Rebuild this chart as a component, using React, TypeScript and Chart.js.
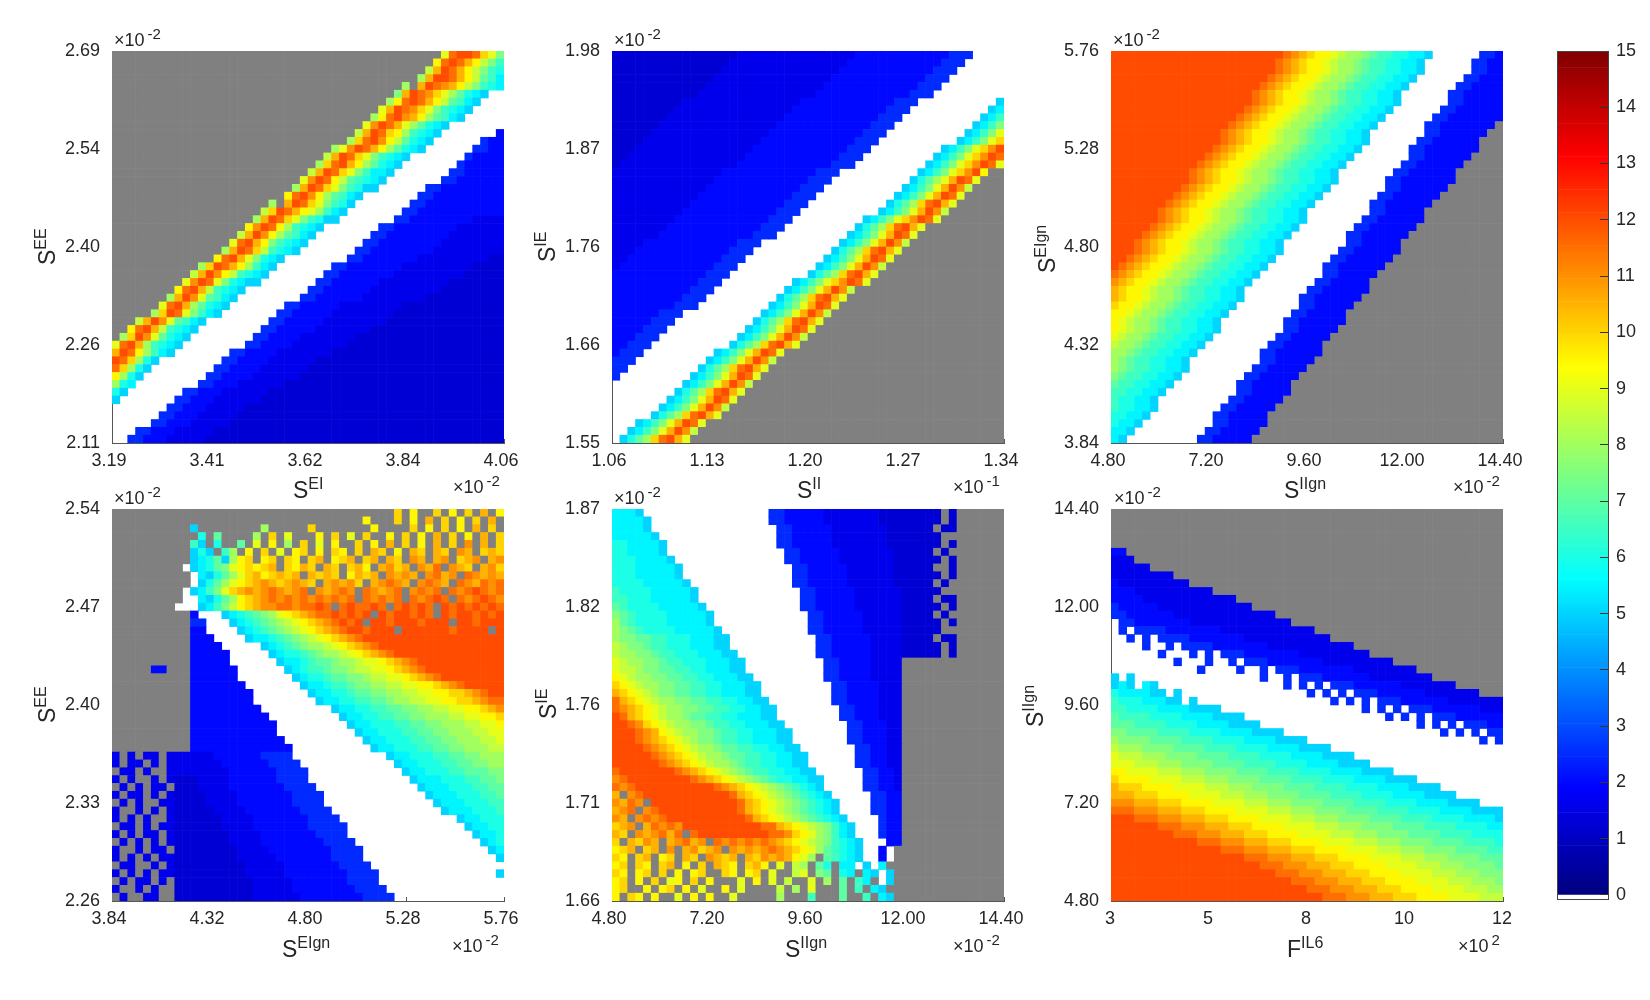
import { useEffect, useRef } from "react";
import { Chart, registerables, type ChartConfiguration } from "chart.js";

Chart.register(...registerables);

// cell codes: run-length rows, A..Z = value / 0.5, "." = no data (gray), "-" = empty (white)
const panel1Rows = [
  "42.SXYYXUSP", "41.TXYXVTRPN", "40.RVYXVTRPNM", "39.QVYYXVTRONL", "37.Q.VYXWVTRPNML",
  "36.PVYXWUSQOMLK2-", "35.QTXYXVTRONLK3-", "34.SVYXWUSPNMLK4-", "33.QTXYWVTQONLK5-", "32.SWYXVSQOMLK7-",
  "31.RVYXUTQNMLK7-E", "30.QUXYWTROMLK6-F2E", "28.QSWYXVTQOMLK6-FF2E", "27.RVYXUSPNMLK7-F4E", "26.QUXYVTQOMLK7-F5E",
  "25.RVYXUSPNLLK7-FF5E", "24.SWYXTRONMLK7-FF6E", "23.QVYXUSPNMKK6-FF8E", "22.TXYWTQONLK7-2F9E", "20.Q.VYXUSPNMK7-2F10E",
  "19.RUYXVTSQNLK7-2F11E", "18.QVYXUSPNMKK7-2F8E4D", "17.TWYXTQNMLK7-2F8E6D", "16.RVYWTQONLK7-2F8E7D", "15.SXYVTPNMLK7-2F8E8D",
  "14.QVYXURNMLK7-2F8E9D", "13.TXYVSPMLK8-2F7E9D2C", "11.QUYXVTQNLK7-2F7E9D4C", "10.RVYWTRNMLK7-2F7E9D5C", "9.SWYXSPMLKK7-2F6E9D7C",
  "8.TXYVRNMLK8-2F6E9D8C", "7.QVYWSONLK8-2F6E8D10C", "6.SXYVQOMLK7-2F5E8D13C", "5.QUYXSPNLK7-2F5E8D14C", "3.RVYWSONLK8-2F5E8D15C",
  "2.TXYVRNMLK8-2F5E7D17C", ".QUYWSOMLK8-2F4E7D19C", "SXYVQNMLK8-2F4E7D20C", "VYXTQNLK7-2F4E7D22C", "YXUQMK8-2F4E6D24C",
  "XUQMK8-2F4E6D25C", "TQMK8-2F4E6D26C", "QML8-2F3E6D28C", "MK7-2F3E6D30C", "K7-2F3E6D31C",
  "7-2F3E5D33C", "6-2F3E5D34C", "5-2F3E5D35C", "3-2F3E5D37C", "2-2F3E5D38C",
];
const panel2Rows = [
  "16C15D12E3F4-", "15C15D12E3F5-", "14C15D12E3F6-", "13C15D12E3F7-", "12C15D12E3F8-",
  "11C15D12E3F9-", "9C15D12E3F10-K", "8C15D12E3F10-KL", "7C15D12E3F10-KLN", "6C15D12E3F10-KLNP",
  "5C15D12E3F10-KLNPS", "4C15D12E3F10-KLNPSU", "3C15D12E3F9-KLNPSUWY", "2C15D12E3F9-KLNPSUWYX", "C15D12E3F9-KLNPSUWYXS",
  "14D12E3F10-KLNPSUWYT2.", "13D12E3F10-KMOQSVYXS3.", "12D12E3F10-KLNPSVYWR4.", "11D12E3F10-KLNPSVYXS5.", "10D12E3F10-KMOQUXYVS6.",
  "9D12E3F10-KLNPSVYWR7.", "8D12E3F9-KLNPSUWYXS8.", "7D12E3F9-KMOQUXYVS10.", "6D12E3F9-KLNPSVYXS11.", "4D12E3F10-KLNPSVYWR12.",
  "3D12E3F10-KMOQUXYVS13.", "2D12E3F10-KLNPSVYXS14.", "D12E3F10-KLNPSVYWR15.", "12E3F10-KMOQUXYVS16.", "11E3F9-KLNPSUWYXS17.",
  "10E3F9-KLNPSVYWR19.", "9E3F9-KMOQUXYVS20.", "8E3F9-KLNPSVYXS21.", "6E3F10-KLNPSVYWR22.", "5E3F10-KMOQUXYVS23.",
  "4E3F10-KLNPSVYXS24.", "3E3F10-KLNPSVYWR25.", "2E3F10-KMOQUXYVS26.", "E3F9-KLNPSVYXS28.", "3F9-KLNPSVYWR29.",
  "2F9-KMOQUXYVS30.", "F9-KLNPSVYXS31.", "9-KLNPSVYWR32.", "8-KMOQUXYVS33.", "7-KLNPSVYXS34.",
  "6-KLNPSVYWR35.", "5-KMOQUXYVS36.", "3-KLNPSVYXS38.", "2-KLNPSVYWR39.", "-KMOQUXYVS40.",
];
const panel3Rows = [
  "22YXWVUTTSRQQPONNMMLLK6-FFE", "21YXWVUTTSRQQPONNMMLLK6-FFEE", "21YXWVUTTSRQQPONNMMLLK6-FFEE", "20YXWVUTTSRQQPONNMMLLK6-FFEEE", "19YXWVUTTSRQQPONNMMLLK6-FFEEEE",
  "18YXWVUTTSRQQPONNMMLLK6-2F5E", "18YXWVUTTSRQQPONNMMLLK6-2F5E", "17YXWVUTTSRQQPONNMMLLK6-2F6E", "16YXWVUTTSRQQPONNMMLLK6-2F7E", "15YXWVUTTSRQQPONNMMLLK6-2F7E.",
  "14YXWVUTTSRQQPONNMMLLK7-2F6E2.", "14YXWVUTTSRQQPONNMMLLK6-2F6E3.", "13YXWVUTTSRQQPONNMMLLK6-2F7E3.", "12YXWVUTTSRQQPONNMMLLK7-2F6E4.", "11YXWVUTTSRQQPONNMMLLK7-2F6E5.",
  "10YXWVUTTSRQQPONNMMLLK7-2F6E6.", "10YXWVUTTSRQQPONNMMLLK6-2F7E6.", "9YXWVUTTSRQQPONNMMLLK7-2F6E7.", "8YXWVUTTSRQQPONNMMLLK7-2F6E8.", "7YXWVUTTSRQQPONNMMLLK7-2F6E9.",
  "6YXWVUTTSRQQPONNMMLLK8-2F5E10.", "6YXWVUTTSRQQPONNMMLLK7-2F6E10.", "5YXWVUTTSRQQPONNMMLLK7-2F6E11.", "4YXWVUTTSRQQPONNMMLLK7-2F6E12.", "3YXWVUTTSRQQPONNMMLLK8-2F5E13.",
  "3YXWVUTTSRQQPONNMMLLK7-2F6E13.", "2YXWVUTTSRQQPONNMMLLK7-2F6E14.", "YXWVUTTSRQQPONNMMLLK7-2F6E15.", "XWVUTTSRQQPONNMMLLK8-2F5E16.", "WVUTTSRQQPONNMMLLK8-2F5E17.",
  "VUTTSRQQPONNMMLLK8-2F6E17.", "VUTTSRQQPONNMMLLK7-2F6E18.", "UTTSRQQPONNMMLLK8-2F5E19.", "TTSRQQPONNMMLLK8-2F5E20.", "TSRQQPONNMMLLK8-2F6E20.",
  "TSRQQPONNMMLLK8-2F5E21.", "SRQQPONNMMLLK8-2F5E22.", "RQQPONNMMLLK8-2F5E23.", "QQPONNMMLLK8-2F6E23.", "QPONNMMLLK9-2F5E24.",
  "QPONNMMLLK8-2F5E25.", "PONNMMLLK8-2F5E26.", "ONNMMLLK8-2F5E27.", "NNMMLLK9-2F5E27.", "NMMLLK9-2F5E28.",
  "NMMLLK8-2F5E29.", "MMLLK8-2F5E30.", "MLLK9-2F5E30.", "LLK9-2F5E31.", "LK9-2F5E32.",
];
const panel4Rows = [
  "36.U.T2.U.T.U.V.T", "32.T3.U.T.V.U.T.U.V.", "10.K8.Q5.U7.T4.U.T.U.T.V.U.", "11.M.O4.Q.U.S3.T.U.S.U2.T.U.T.V.U.T.V.U", "10.NK.M2.O.S.T.Q.U.S.T2.U.T.V.U.T.V.U.W.V.U",
  "10.KMK.NQ.T.U.S.TU.T.UT.U.VU.T.VU.VU.WV.UVU", "10.KLMOKQTU.TU.UT.UV.TUV.UV.VU.WV.VW.UVW.VW", "9.-KLMOPSTUTUV.UTVU.VU.UVT.VWUV.WVX.WVU.VWU", "10.-LKMOQSUVTUVUV.VUVU.TVUV.WVWV.WXVW.XWVWV", "10.-KMOQSTUVWVUVWVU.VWVWU.VWXWV.WXWV.XWVXWX",
  "9.-KLNPSUVWVWXWVWX.WVWXW.XWVWX.WXWX.XWXYXWX", "9.2-LKMOQTUVWXWXWXWXWXWX.XWXWX.XWXYX.XWXYXW", "8.3-KLNPRTUVWWXXWXXYX.XYXXYX.XYXYX.YXYXYXYX", "10.E3-KLMNOPQSTUVWXXYXYXY.YXYYXYX.YXYYXYXY", "10.2F3-KLMNOPQRSTUVWXYXY.YYXYYYXYYY.YYXYYY",
  "10.2E4-KLMNOPQRSTUVWXYYXYYY.6YXYYYY.Y", "10.3E4-KLLMNOPQRSTUVWX18Y", "10.4E5-KLMNOPQQRSTUVWX16Y", "10.5E5-KLMMNOPQQRSTUVWX14Y", "10.5E6-KLLMNOOPQQRSSTUVWX11Y",
  "5.2E3.6E6-KLMNNOPPQRRSSTUVWX10Y", "10.6E7-KLMMNOOPPQRRSSTUVWX8Y", "10.7E7-KLLMNNOPPQQRRSSTTUVWX5Y", "10.8E7-KLLMMNOOPPQQRRSSTTUUVWX2Y", "10.8E8-KLLMMNNOOPQQRRSSTTUUVWXX",
  "10.9E9-KLLMMNNOOPPQQRRSSTTUVW", "10.10E9-KLLMMNNOOPPQQQRRSSTTU", "10.11E9-KLLMMMNNOOPPQQQRRSST", "10.11E10-KLLMMMNNOOPPQQQRRSS", "10.12E10-KLLMMMNNOOPPQQQRRS",
  "10.13E10-KLLMMMNNOOPPQQQRR", "D.D.2D.D5D6E4F12-KLLMMMNNOOPPQQQ", "D.2D.D.D6D6E4F12-KLLMMMNNOOPPQQ", ".2D.D2.D7D6E4F12-KLLMMMNNOOOPP", "D.D2.D.D3C4D6E4F13-KLLLMMMNNOOP",
  ".D.D.2D.3C4D7E4F13-KLLLMMMNNOO", "D.2D.D.D4C4D7E4F13-KLLLMMMNNO", ".D.D2.2D4C4D7E4F14-KLLLMMMNN", "D2.D.D.D5C4D7E4F14-KLLLMMMN", "D.D.D2.D6C4D7E4F15-KLLMMM",
  ".2D.D.2D6C4D7E5F15-KLLMM", "D.D.2D.D7C4D7E4F16-KLLM", ".D.D.D.D7C4D8E4F16-KLM", "D2.D.2D.8C4D8E4F16-KL", "D.D.D.2D8C5D7E4F17-K",
  ".2D2.D.D9C5D7E4F17-", "D.D.D.2D9C5D8E4F15-K", ".D.2D.D.10C5D7E4F16-", "D2.D.D2.10C5D8E4F15-", ".D2.2D2.10C6D8E4F14-",
];
const panel5Rows = [
  "3LK16-2F5E7D7CC.C6.", "4LK15-2F5E7D7CC.C6.", "4LK16-2F5E7D6C.2C6.", "5LK15-2F5E7D6CC2.6.", "2M4LK14-2F5E7D6CC.C6.",
  "2M4LK15-2F5E7D5C.C.6.", "3M4LK14-2F5E7D5CC.C6.", "3M5LK14-2F5E6D5C2.C6.", "3M5LK14-2F5E6D5CC.C6.", "4M5LK13-2F5E6D5C.C.6.",
  "N4M5LK13-2F5E6D4CC2.6.", "2N3M5LK13-2F5E6D4C.2C6.", "ON4M5LK12-2F5E6D4CC.C6.", "PON4M5LK12-2F5E5D4C.C.6.", "QON4M5LK12-2F5E5D4CC.C6.",
  "QPON4M5LK11-2F5E5D4CC2.6.", "QPPOONNMMMLLLKK11-2F5E4D4C.2C6.", "RQPPONNMMMLLLKK11-2F5E4D4CC.C6.", "RQQPPONNMMMLLLKK10-2F5E4D4CC.C6.", "SRQQPPONNMMMLLLKK10-2F4E4D13.",
  "SRRQPPOONNMMLLLKK10-2F4E4D13.", "TSRQQPPOONNMMLLLKK9-2F4E4D13.", "UTSRQQPPOONNMMLLLKK9-2F4E3D13.", "VUTSRQPPOONNMMLLLKK9-2F4E3D13.", "XVUTSRQQPPOONNMMLLKK8-2F4E3D13.",
  "XWVUTSRQQPPOONNMMLLKK8-2F3E3D13.", "YXVUTSRQQPOONNMMLLLKK8-2F3E3D13.", "YYXWUTSRQQPPONNMMLLLKK8-2F3E2D13.", "YYYXWVTSRQQPPONNMMLLLKK7-2F3E2D13.", "YYYXWVUTSRQPPONNMMLLLKK7-2F3E2D13.",
  "4YXWVUTSRQQPOONNMMLLKK7-2F2E2D13.", "5YXWVUTSRQQPOONNMMLLKK6-2F2E2D13.", "6YXWVUTSRQQPONNMMLLKK6-2F2E2D13.", "X7YXWVUTSRQPONNMMLLKK6-2F2ED13.", "WX8YXWVUTSRQPONMMLLKK5-2F2ED13.",
  "XWX10YXWVUTSRQPONMLK5-2F2ED13.", "V.WX11YXVUTSRQPONMLK5-2F2E13.", "WVXW.11YXVUTSRQPONMLK4-2F2E13.", "VWX.WX10YXVUTSRQPONMLK4-2F2E13.", "WV.WXWX10YXVUTSRQPONMLK4-F2E13.",
  "UVW.VXWXW10YXXVUTSRQPNLK3-F2E13.", "VU.WVWXVX.XY8YXXWUTSQPNLK3-F2E13.", "U.VUWV.VWXVW.XWXWXWXWVUTSRQPNMLK3-2E13.", "TUV.UV.W.VWUVW.WVWVWXWVUTSQONMLK2-E-14.", "UT.UV.TU.VU.WVUV.VUWVWVTSQ.ONMLK2-E-14.",
  "TU.UT.UV.T.U.VUT.UVT.S.RQ.OM.LL-K-L15.", "UT.TU.U.T.TU2.UT.TU.S2.RS.PO.ML.LK-K14.", "TU.T.U.ST.U.T3.S.T.S.R2.S.Q.O.NL.-K14.", "TU2.T.TU.T.S2.T.S4.R.Q.S3.O.N.LK15.", "T.UT.T2.S.T.T2.S5.Q3.N3.O2.N.LK14.",
];
const panel6Rows = [
  "50.", "50.", "50.", "50.", "50.",
  "2E48.", "3D47.", "5D45.", "8D42.", "E9D40.",
  "3E10D37.", "4E12D34.", "F5E12D32.", "2F6E13D29.", "-2F7E13D27.",
  "-F-F3F7E12D24.", "2-F-F-FF2F7E11D22.", "4-F2-F-2F2F7E11D19.", "6-F3-F-F-F2F7E9D17.", "8-F3-F2-F-F2F7E9D14.",
  "11-F4-F2-F-F2F7E8D11.", "K-K16-F2-F-F2F6E8D9.", "KLK-LK16-F-F-F-F2F6E7D6.", "MLLLLKK-K16-F-F-F-F2F6E7D3.", "NMMMLLLKK-K17-F-F-F-F2F6E7D",
  "2N4M4L4K18-F-F-F-F2F6E3D", "O4N4M4L4K18-F-F-F-F2F6E", "3O4N4M4L4K20-F-F-F-F2F2E", "2P4O4N4M4L4K20-F-F-F-FF", "Q4P4O4N4M4L4K22-F-F",
  "R3Q4P4O4N4M4L4K22-", "S3R3Q4P4O4N4M4L4K19-", "3S3R3Q4P4O4N4M4L4K17-", "2T4S3R3Q4P4O4N4M4L4K14-", "U4T4S3R3Q4P4O4N4M4L4K11-",
  "V3U4T4S3R3Q4P4O4N4M4L4K8-", "3V3U4T4S3R3Q4P4O4N4M4L4K6-", "3W3V3U4T4S3R3Q4P4O4N4M4L4K3-", "3X3W3V3U4T4S3R3Q4P4O4N4M4L4K", "3Y3X3W3V3U4T4S3R3Q4P4O4N4M4LK",
  "6Y3X3W3V3U4T4S3R3Q4P4O4N4M2L", "8Y3X3W3V3U4T4S3R3Q4P4O4N4M", "11Y3X3W3V3U4T4S3R3Q4P4O4NM", "14Y3X3W3V3U4T4S3R3Q4P4O2N", "17Y3X3W3V3U4T4S3R3Q4P3O",
  "19Y3X3W3V3U4T4S3R3Q4PO", "21Y3X3W3V3U4T4S3R3Q3P", "23Y3X3W3V3U4T4S3R3QP", "25Y3X3W3V3U4T4S3R2Q", "27Y3X3W3V3U4T4S3R",
];

const panel1XTicks = ["3.19", "3.41", "3.62", "3.84", "4.06"];
const panel1YTicks = ["2.11", "2.26", "2.40", "2.54", "2.69"];
const panel2XTicks = ["1.06", "1.13", "1.20", "1.27", "1.34"];
const panel2YTicks = ["1.55", "1.66", "1.76", "1.87", "1.98"];
const panel3XTicks = ["4.80", "7.20", "9.60", "12.00", "14.40"];
const panel3YTicks = ["3.84", "4.32", "4.80", "5.28", "5.76"];
const panel4XTicks = ["3.84", "4.32", "4.80", "5.28", "5.76"];
const panel4YTicks = ["2.26", "2.33", "2.40", "2.47", "2.54"];
const panel5XTicks = ["4.80", "7.20", "9.60", "12.00", "14.40"];
const panel5YTicks = ["1.66", "1.71", "1.76", "1.82", "1.87"];
const panel6XTicks = ["3", "5", "8", "10", "12"];
const panel6YTicks = ["4.80", "7.20", "9.60", "12.00", "14.40"];
const colorbarTicks = [0, 1, 2, 3, 4, 5, 6, 7, 8, 9, 10, 11, 12, 13, 14, 15];

const FONT = "'Liberation Sans', Arial, sans-serif";
const GRID = 50;
const PLOT = 392;
const MARGIN = { left: 60, top: 12, right: 30, bottom: 40 };
const TEXT = "#262626";
const LEVELS = "ABCDEFGHIJKLMNOPQRSTUVWXYZ";

const panels = [
  { rows: panel1Rows, xTicks: panel1XTicks, yTicks: panel1YTicks, x: 112, y: 51, labelShift: -3 },
  { rows: panel2Rows, xTicks: panel2XTicks, yTicks: panel2YTicks, x: 612, y: 51, labelShift: -3 },
  { rows: panel3Rows, xTicks: panel3XTicks, yTicks: panel3YTicks, x: 1111, y: 51, labelShift: -3 },
  { rows: panel4Rows, xTicks: panel4XTicks, yTicks: panel4YTicks, x: 112, y: 509, labelShift: -3 },
  { rows: panel5Rows, xTicks: panel5XTicks, yTicks: panel5YTicks, x: 612, y: 509, labelShift: -3 },
  { rows: panel6Rows, xTicks: panel6XTicks, yTicks: panel6YTicks, x: 1111, y: 509, labelShift: -1 },
];

// x, y = text start on the baseline
const axisLabels = [
  { base: "S", sup: "EI", x: 293, y: 498 },
  { base: "S", sup: "II", x: 797, y: 498 },
  { base: "S", sup: "IIgn", x: 1284, y: 498 },
  { base: "S", sup: "EIgn", x: 282, y: 957 },
  { base: "S", sup: "IIgn", x: 785, y: 957 },
  { base: "F", sup: "IL6", x: 1287, y: 957 },
  { base: "S", sup: "EE", x: 55, y: 265, rotate: true },
  { base: "S", sup: "IE", x: 555, y: 262, rotate: true },
  { base: "S", sup: "EIgn", x: 1055, y: 273, rotate: true },
  { base: "S", sup: "EE", x: 55, y: 723, rotate: true },
  { base: "S", sup: "IE", x: 556, y: 719, rotate: true },
  { base: "S", sup: "IIgn", x: 1043, y: 727, rotate: true },
];

const exponents = [
  { power: "-2", x: 114, y: 46 }, { power: "-2", x: 614, y: 46 }, { power: "-2", x: 1113, y: 46 },
  { power: "-2", x: 114, y: 504 }, { power: "-2", x: 614, y: 504 }, { power: "-2", x: 1114, y: 504 },
  { power: "-2", x: 453, y: 493 }, { power: "-1", x: 953, y: 493 }, { power: "-2", x: 1453, y: 493 },
  { power: "-2", x: 452, y: 952 }, { power: "-2", x: 953, y: 952 }, { power: "2", x: 1458, y: 952 },
];

function jetColor(v: number) {
  const t = v / 15;
  const c = (a: number) => Math.round(255 * Math.max(0, Math.min(1, a)));
  const r = c(Math.min(4 * t - 1.5, -4 * t + 4.5));
  const g = c(Math.min(4 * t - 0.5, -4 * t + 3.5));
  const b = c(Math.min(4 * t + 0.5, -4 * t + 2.5));
  return `rgb(${r},${g},${b})`;
}

function decodeRow(row: string) {
  const cells: string[] = [];
  for (const m of row.matchAll(/(\d*)([A-Z.\-])/g)) {
    const n = m[1] ? Number(m[1]) : 1;
    for (let i = 0; i < n; i++) cells.push(m[2]);
  }
  return cells;
}

function buildPoints(rows: string[]) {
  const points: { x: number; y: number; code: string }[] = [];
  rows.forEach((row, r) => {
    decodeRow(row).forEach((code, c) => {
      if (code === "-") return; // empty bins stay see-through
      points.push({ x: ((c + 0.5) / GRID) * 4, y: 4 - ((r + 0.5) / GRID) * 4, code });
    });
  });
  return points;
}

function cellColor(code: string) {
  if (code === ".") return "#808080";
  // the two darkest blues sit a bit closer together than the half steps
  if (code === "C") return jetColor(1.25);
  if (code === "D") return jetColor(1.6);
  return jetColor(LEVELS.indexOf(code) * 0.5);
}

// keep the plot box where we put it, whatever the tick labels overhang
function dropScalePadding(s: any) {
  s.paddingLeft = 0;
  s.paddingRight = 0;
  s.paddingTop = 0;
  s.paddingBottom = 0;
}

function Panel({ rows, xTicks, yTicks, x, y, labelShift }: (typeof panels)[number]) {
  const canvasRef = useRef<HTMLCanvasElement | null>(null);

  useEffect(() => {
    const el = canvasRef.current;
    if (!el) return;
    const tickFont = { family: FONT, size: 18 };
    const cfg: ChartConfiguration<"scatter"> = {
      type: "scatter",
      data: {
        datasets: [
          {
            data: buildPoints(rows) as any,
            pointStyle: "rect",
            pointRadius: ((PLOT / GRID + 0.6) * Math.SQRT2) / 2,
            pointBorderWidth: 0,
            pointBackgroundColor: (ctx: any) => cellColor(ctx.raw.code),
          },
        ],
      },
      options: {
        animation: false,
        responsive: false,
        devicePixelRatio: 1,
        layout: { padding: { top: MARGIN.top, right: MARGIN.right, left: 0, bottom: 0 } },
        plugins: { legend: { display: false }, tooltip: { enabled: false } },
        scales: {
          x: {
            type: "linear",
            min: 0,
            max: 4,
            afterBuildTicks: (s: any) => {
              s.ticks = [0, 1, 2, 3, 4].map((value) => ({ value }));
            },
            afterFit: (s: any) => {
              s.height = MARGIN.bottom;
              dropScalePadding(s);
            },
            border: { display: true, color: "#555", width: 1 },
            grid: { drawOnChartArea: false, tickLength: -4, color: "#555" },
            ticks: {
              font: tickFont,
              color: TEXT,
              maxRotation: 0,
              autoSkip: false,
              padding: 11,
              labelOffset: labelShift,
              callback: (_v: any, i: number) => xTicks[i],
            },
          },
          y: {
            type: "linear",
            min: 0,
            max: 4,
            afterBuildTicks: (s: any) => {
              s.ticks = [0, 1, 2, 3, 4].map((value) => ({ value }));
            },
            afterFit: (s: any) => {
              s.width = MARGIN.left;
              dropScalePadding(s);
            },
            border: { display: true, color: "#555", width: 1 },
            grid: { drawOnChartArea: false, tickLength: -4, color: "#555" },
            ticks: {
              font: tickFont,
              color: TEXT,
              autoSkip: false,
              padding: 16,
              callback: (_v: any, i: number) => yTicks[i],
            },
          },
        },
      },
    };
    const chart = new Chart(el, cfg);
    return () => chart.destroy();
  }, [rows, xTicks, yTicks, labelShift]);

  return (
    <canvas
      ref={canvasRef}
      width={PLOT + MARGIN.left + MARGIN.right}
      height={PLOT + MARGIN.top + MARGIN.bottom}
      style={{ position: "absolute", left: x - MARGIN.left, top: y - MARGIN.top, display: "block" }}
    />
  );
}

function Colorbar() {
  const canvasRef = useRef<HTMLCanvasElement | null>(null);

  useEffect(() => {
    const el = canvasRef.current;
    if (!el) return;
    const steps = 256;
    const boxPlugin = {
      id: "cbBox",
      afterDraw(chart: Chart) {
        const { ctx, chartArea: a } = chart;
        ctx.save();
        ctx.strokeStyle = "#444";
        ctx.lineWidth = 1;
        ctx.strokeRect(a.left + 0.5, a.top + 0.5, a.right - a.left - 1, a.bottom - a.top - 1);
        ctx.restore();
      },
    };
    const cfg: ChartConfiguration<"bar"> = {
      type: "bar",
      data: {
        labels: ["level"],
        datasets: Array.from({ length: steps }).map((_, i) => ({
          data: [15 / steps],
          backgroundColor: jetColor(((i + 0.5) / steps) * 15),
          borderWidth: 0,
          barPercentage: 1,
          categoryPercentage: 1,
        })),
      },
      options: {
        animation: false,
        responsive: false,
        devicePixelRatio: 1,
        layout: { padding: { top: 12, left: 0, right: 0, bottom: 12 } },
        plugins: { legend: { display: false }, tooltip: { enabled: false } },
        scales: {
          x: { stacked: true, display: false },
          y: {
            stacked: true,
            position: "right",
            min: -0.09,
            max: 15,
            afterBuildTicks: (s: any) => {
              s.ticks = colorbarTicks.map((value) => ({ value }));
            },
            afterFit: (s: any) => {
              s.width = 36;
              dropScalePadding(s);
            },
            border: { display: false },
            grid: { drawOnChartArea: false, tickLength: -9, color: "#333", z: 1 },
            ticks: {
              font: { family: FONT, size: 18 },
              color: TEXT,
              autoSkip: false,
              padding: 16,
              callback: (v: any) => String(v),
            },
          },
        },
      },
      plugins: [boxPlugin],
    };
    const chart = new Chart(el, cfg);
    return () => chart.destroy();
  }, []);

  return (
    <canvas
      ref={canvasRef}
      width={52 + 36}
      height={849 + 12 + 12}
      style={{ position: "absolute", left: 1557, top: 51 - 12, display: "block" }}
    />
  );
}

export default function App() {
  return (
    <div>
      {panels.map((p, i) => (
        <Panel key={i} {...p} />
      ))}
      <Colorbar />
      <svg
        width={1650}
        height={1000}
        style={{ position: "absolute", left: 0, top: 0, pointerEvents: "none" }}
        fontFamily={FONT}
        fill={TEXT}
      >
        {axisLabels.map((l, i) => (
          <text key={i} x={l.x} y={l.y} fontSize={23} transform={l.rotate ? `rotate(-90 ${l.x} ${l.y})` : undefined}>
            {l.base}
            <tspan dy={-9} fontSize={16}>
              {l.sup}
            </tspan>
          </text>
        ))}
        {exponents.map((e, i) => (
          <text key={i} x={e.x} y={e.y} fontSize={18}>
            ×10
            <tspan dx={3} dy={-7} fontSize={15}>
              {e.power}
            </tspan>
          </text>
        ))}
      </svg>
    </div>
  );
}
